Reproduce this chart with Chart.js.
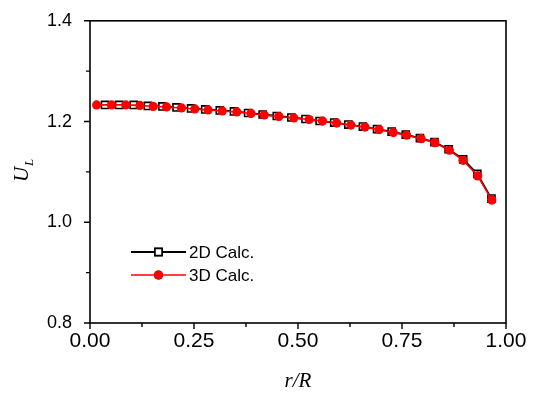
<!DOCTYPE html>
<html>
<head>
<meta charset="utf-8">
<script src="https://cdn.jsdelivr.net/npm/chart.js@4"></script>
<style>
  html, body { margin: 0; padding: 0; background: #fff; }
  #wrap { width: 535px; height: 394px; }
</style>
</head>
<body>
<div id="wrap"><canvas id="ulChart" width="535" height="394"></canvas></div>
<script>
// r/R positions and U_L values
var r2D = [0.036, 0.070, 0.105, 0.139, 0.174, 0.208, 0.243, 0.277, 0.312, 0.346,
           0.380, 0.415, 0.449, 0.484, 0.518, 0.552, 0.587, 0.621, 0.656, 0.690,
           0.725, 0.759, 0.793, 0.828, 0.862, 0.897, 0.931, 0.965];
var u2D = [1.233, 1.233, 1.233, 1.231, 1.230, 1.228, 1.226, 1.224, 1.222, 1.220,
           1.217, 1.214, 1.211, 1.208, 1.205, 1.201, 1.198, 1.194, 1.190, 1.185,
           1.180, 1.174, 1.167, 1.159, 1.145, 1.125, 1.096, 1.047];

var r3D = [0.016, 0.052, 0.086, 0.120, 0.152, 0.184, 0.220, 0.252, 0.284, 0.318,
           0.353, 0.387, 0.419, 0.454, 0.490, 0.527, 0.559, 0.593, 0.627, 0.661,
           0.695, 0.729, 0.761, 0.796, 0.829, 0.864, 0.897, 0.932, 0.966];
var u3D = [1.233, 1.233, 1.233, 1.232, 1.230, 1.229, 1.227, 1.225, 1.223, 1.221,
           1.219, 1.216, 1.213, 1.210, 1.207, 1.204, 1.201, 1.197, 1.193, 1.189,
           1.184, 1.178, 1.173, 1.166, 1.158, 1.143, 1.123, 1.092, 1.044];

var seriesNames = ['2D Calc.', '3D Calc.'];
var xMajor = [0, 0.25, 0.5, 0.75, 1.0];
var xMinor = [0.125, 0.375, 0.625, 0.875];
var yMajor = [0.8, 1.0, 1.2, 1.4];
var yMinor = [0.9, 1.1, 1.3];

function toPoints(xs, ys) {
    var pts = [];
    for (var i = 0; i < xs.length; i++) {
        pts.push({x: xs[i], y: ys[i]});
    }
    return pts;
}

// box frame + outward ticks, axis titles
var framePlugin = {
    id: 'frame',
    afterDraw: function(chart) {
        var ctx = chart.ctx;
        var a = chart.chartArea;
        var xs = chart.scales.x, ys = chart.scales.y;
        ctx.save();
        ctx.strokeStyle = '#000';
        ctx.lineWidth = 1.6;
        ctx.strokeRect(a.left, a.top, a.right - a.left, a.bottom - a.top);
        ctx.lineWidth = 1.4;
        ctx.beginPath();
        xMajor.forEach(function(v) {
            var p = xs.getPixelForValue(v);
            ctx.moveTo(p, a.bottom); ctx.lineTo(p, a.bottom + 6);
        });
        xMinor.forEach(function(v) {
            var p = xs.getPixelForValue(v);
            ctx.moveTo(p, a.bottom); ctx.lineTo(p, a.bottom + 4);
        });
        yMajor.forEach(function(v) {
            var p = ys.getPixelForValue(v);
            ctx.moveTo(a.left, p); ctx.lineTo(a.left - 6, p);
        });
        yMinor.forEach(function(v) {
            var p = ys.getPixelForValue(v);
            ctx.moveTo(a.left, p); ctx.lineTo(a.left - 4, p);
        });
        ctx.stroke();

        ctx.fillStyle = '#000';
        ctx.font = 'italic 21px "Liberation Serif", "Times New Roman", serif';
        ctx.textAlign = 'center';
        ctx.textBaseline = 'alphabetic';
        ctx.fillText('r/R', (a.left + a.right) / 2, 387);

        ctx.translate(28, 172);
        ctx.rotate(-Math.PI / 2);
        ctx.textAlign = 'left';
        ctx.font = 'italic 21px "Liberation Serif", "Times New Roman", serif';
        ctx.fillText('U', -10, 0);
        ctx.font = 'italic 13px "Liberation Serif", "Times New Roman", serif';
        ctx.fillText('L', 6, 5);
        ctx.restore();
    }
};

// legend with a line through the marker
var legendPlugin = {
    id: 'lineLegend',
    afterDraw: function(chart) {
        var ctx = chart.ctx;
        var rows = [
            {ds: chart.data.datasets[1], y: 252},
            {ds: chart.data.datasets[0], y: 275}
        ];
        ctx.save();
        rows.forEach(function(row) {
            var ds = row.ds;
            ctx.strokeStyle = ds.borderColor;
            ctx.lineWidth = ds.borderWidth;
            ctx.beginPath();
            ctx.moveTo(131, row.y);
            ctx.lineTo(186, row.y);
            ctx.stroke();
            Chart.helpers.drawPoint(ctx, {
                pointStyle: ds.pointStyle,
                radius: ds.pointRadius,
                borderWidth: ds.pointBorderWidth,
                rotation: 0
            }, 158.5, row.y);
            ctx.fillStyle = ds.pointBackgroundColor;
            ctx.strokeStyle = ds.pointBorderColor;
            ctx.lineWidth = ds.pointBorderWidth;
            ctx.fill();
            if (ds.pointBorderWidth > 0) ctx.stroke();
            ctx.fillStyle = '#000';
            ctx.font = '17px "Liberation Sans", Arial, sans-serif';
            ctx.textBaseline = 'middle';
            ctx.fillText(ds.label, 189, row.y + 1);
        });
        ctx.restore();
    }
};

var ctx = document.getElementById('ulChart').getContext('2d');

new Chart(ctx, {
    type: 'line',
    data: {
        datasets: [{
            label: seriesNames[1],
            data: toPoints(r3D, u3D),
            borderColor: '#ff0000',
            borderWidth: 1.6,
            pointStyle: 'circle',
            pointRadius: 4.6,
            pointBackgroundColor: '#ff0000',
            pointBorderColor: '#ff0000',
            pointBorderWidth: 0,
            tension: 0
        }, {
            label: seriesNames[0],
            data: toPoints(r2D, u2D),
            borderColor: '#000000',
            borderWidth: 1.8,
            pointStyle: 'rect',
            pointRadius: 5,
            pointBackgroundColor: '#ffffff',
            pointBorderColor: '#000000',
            pointBorderWidth: 1.6,
            tension: 0
        }]
    },
    options: {
        responsive: false,
        animation: false,
        clip: false,
        layout: {padding: {left: 0, right: 29, top: 17, bottom: 0}},
        plugins: {
            legend: {display: false},
            tooltip: {enabled: false}
        },
        scales: {
            x: {
                type: 'linear',
                min: 0,
                max: 1,
                afterFit: function(scale) { scale.height = 71; },
                grid: {display: false},
                border: {display: false},
                ticks: {
                    stepSize: 0.25,
                    padding: -2,
                    color: '#000',
                    font: {family: '"Liberation Sans", Arial, sans-serif', size: 21},
                    maxRotation: 0,
                    callback: function(value) { return value.toFixed(2); }
                }
            },
            y: {
                type: 'linear',
                min: 0.8,
                max: 1.4,
                afterFit: function(scale) { scale.width = 90; },
                grid: {display: false},
                border: {display: false},
                ticks: {
                    stepSize: 0.2,
                    padding: 10,
                    color: '#000',
                    font: {family: '"Liberation Sans", Arial, sans-serif', size: 18},
                    callback: function(value) { return value.toFixed(1); }
                }
            }
        }
    },
    plugins: [framePlugin, legendPlugin]
});
</script>
</body>
</html>
